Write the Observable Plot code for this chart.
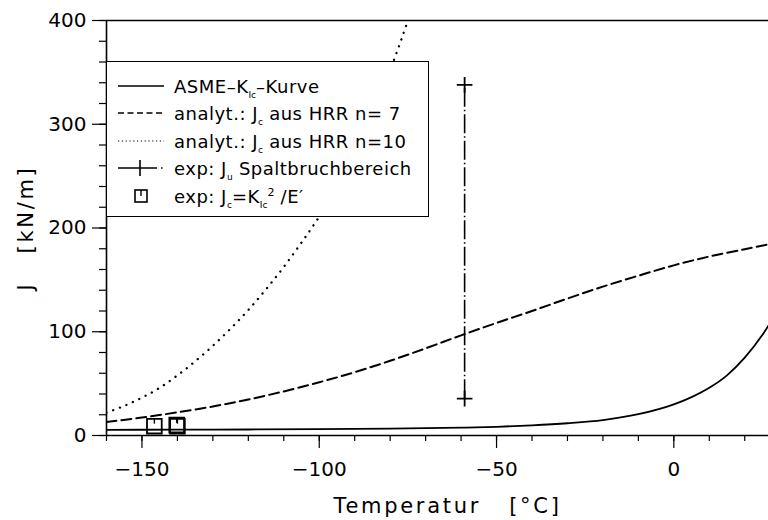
<!DOCTYPE html>
<html>
<head>
<meta charset="utf-8">
<script src="https://cdn.jsdelivr.net/npm/d3@7"></script>
<script src="https://cdn.jsdelivr.net/npm/@observablehq/plot@0.6"></script>
<style>
  body { margin: 0; background: #fff; overflow: hidden; }
  #wrap { position: relative; width: 768px; height: 520px; font-family: "DejaVu Sans", sans-serif; color: #000; }
  #legend { position: absolute; left: 106px; top: 61px; width: 323px; height: 156px; box-sizing: border-box;
            border: 1.2px solid #000; background: #fff; }
  .row { position: absolute; left: 0; height: 28px; display: flex; align-items: center;
         font-size: 18px; letter-spacing: 0.5px; white-space: pre; }
  .row svg { margin-left: 11px; margin-right: 10px; flex: none; }
  .sb { font-size: 9px; position: relative; top: 5px; letter-spacing: 0; }
  .sp { font-size: 11px; position: relative; top: -7px; letter-spacing: 0; }
</style>
</head>
<body>
<div id="wrap"></div>
<script>
// ---- data ----
const tempASME = [-160, -140, -120, -100, -80, -60, -50, -40, -30, -20, -10, 0, 5, 10, 15, 20, 25, 28];
const jASME    = [5.5, 5.6, 5.8, 6.1, 6.7, 7.6, 8.4, 9.8, 11.8, 14.8, 20.5, 30, 37, 46, 58, 75, 97, 113];

const tempN7 = [-160, -150, -140, -130, -120, -110, -100, -90, -80, -70, -60, -50, -40, -30, -20, -10, 0, 10, 20, 27];
const jN7    = [13, 17.3, 22.3, 28, 34.7, 42.5, 51.3, 61, 72, 84, 96.5, 108.5, 120, 132, 143.5, 154, 164, 172.5, 179.5, 184.5];

const tempN10 = [-160, -155, -150, -145, -140, -135, -130, -125, -120, -115, -110, -105, -100, -95, -90, -85, -80, -75, -72];
const jN10    = [22, 28.5, 36.5, 46, 58, 71.5, 86.5, 103, 121, 141, 162.5, 186, 211, 240, 273, 310, 352, 400, 432];

const tempSpalt = [-59];
const jSpaltLow = [35.5];
const jSpaltHigh = [338];

const tempSquares = [-146.5, -140, -140.2];
const jSquares    = [9, 9, 10];

const xMajorTicks = [-150, -100, -50, 0];
const xMinorTicks = d3.range(-160, 27, 10);
const yMajorTicks = [0, 100, 200, 300, 400];
const yMinorTicks = d3.range(0, 401, 20);

const xLabel = "Temperatur\u00a0\u00a0\u00a0[°C]";
const yLabel = "J\u00a0\u00a0\u00a0[kN/m]";

// ---- tables ----
const asme = tempASME.map((T, i) => ({T, J: jASME[i]}));
const n7 = tempN7.map((T, i) => ({T, J: jN7[i]}));
const n10 = tempN10.map((T, i) => ({T, J: jN10[i]}));
const spalt = tempSpalt.map((T, i) => ({T, lo: jSpaltLow[i], hi: jSpaltHigh[i]}));
const spaltEnds = spalt.flatMap(d => [{T: d.T, J: d.lo}, {T: d.T, J: d.hi}]);
const squares = tempSquares.map((T, i) => ({T, J: jSquares[i]}));

const fmt = d => d < 0 ? "\u2212" + Math.abs(d) : String(d);

const chart = Plot.plot({
  width: 768, height: 520,
  marginTop: 20, marginBottom: 85, marginLeft: 106, marginRight: 0,
  style: {fontFamily: "DejaVu Sans, sans-serif", fontSize: "20px", background: "#fff", color: "#000"},
  x: {domain: [-160, 26.7]},
  y: {domain: [0, 400]},
  marks: [
    Plot.axisX(xMinorTicks, {tickSize: 6, text: null, label: null, strokeWidth: 1.2}),
    Plot.axisX(xMajorTicks, {tickSize: 13, tickPadding: 13, label: null, strokeWidth: 1.2, fontSize: 20, tickFormat: fmt}),
    Plot.axisY(yMinorTicks, {tickSize: 7, text: null, label: null, strokeWidth: 1.2}),
    Plot.axisY(yMajorTicks, {tickSize: 14, tickPadding: 6, label: null, strokeWidth: 1.2, fontSize: 20, tickFormat: fmt}),
    Plot.ruleY([0], {strokeWidth: 1.6}),
    Plot.ruleY([400], {strokeWidth: 1.6}),
    Plot.ruleX([-160], {strokeWidth: 1.6}),
    Plot.line(n10, {x: "T", y: "J", curve: "catmull-rom", stroke: "#000", strokeWidth: 2.3, strokeLinecap: "round", strokeDasharray: "0.1,7", clip: true}),
    Plot.line(n7, {x: "T", y: "J", curve: "catmull-rom", stroke: "#000", strokeWidth: 2, strokeDasharray: "10,5", clip: true}),
    Plot.line(asme, {x: "T", y: "J", curve: "monotone-x", stroke: "#000", strokeWidth: 1.8, clip: true}),
    Plot.ruleX(spalt, {x: "T", y1: "lo", y2: "hi", stroke: "#000", strokeWidth: 1.6, strokeDasharray: "19,3,1.5,3"}),
    Plot.dot(spaltEnds, {x: "T", y: "J", symbol: "plus", r: 5.1, stroke: "#000", strokeWidth: 1.8}),
    Plot.dot(squares, {x: "T", y: "J", symbol: "square", r: 8.3, stroke: "#000", strokeWidth: 1.8, fill: "none"}),
    Plot.ruleX(squares, {x: "T", y1: "J", y2: "J", insetTop: -7, insetBottom: 2, stroke: "#000", strokeWidth: 1.4}),
    Plot.text([xLabel], {frameAnchor: "bottom", textAnchor: "middle", dx: 10, dy: 77, fontSize: 21, fill: "#000"}),
    Plot.text([yLabel], {frameAnchor: "left", textAnchor: "middle", dx: -80, rotate: -90, fontSize: 21, fill: "#000"})
  ]
});

d3.select(chart).selectAll("text").filter(function() {
  const t = this.textContent;
  return t === xLabel || t === yLabel;
}).style("letter-spacing", "2.7px");

const wrap = document.getElementById("wrap");
wrap.appendChild(chart);

// ---- legend (inside the plot area, as in the reference) ----
const legendRows = [
  {kind: "solid", html: 'ASME\u2013K<span class="sb">Ic</span>\u2013Kurve'},
  {kind: "dash", html: 'analyt.: J<span class="sb">c</span> aus HRR n= 7'},
  {kind: "dot", html: 'analyt.: J<span class="sb">c</span> aus HRR n=10'},
  {kind: "bar", html: 'exp: J<span class="sb">u</span> Spaltbruchbereich'},
  {kind: "square", html: 'exp: J<span class="sb">c</span>=K<span class="sb">Ic</span><span class="sp">2</span> /E\u2032'}
];
const rowCenters = [24, 51, 79, 106, 134];
const samples = {
  solid: '<line x1="0" y1="10" x2="46" y2="10" stroke="#000" stroke-width="1.6"/>',
  dash: '<line x1="0" y1="10" x2="46" y2="10" stroke="#000" stroke-width="1.6" stroke-dasharray="6,3.5"/>',
  dot: '<line x1="0" y1="10" x2="46" y2="10" stroke="#000" stroke-width="1.1" stroke-dasharray="1.2,2.6"/>',
  bar: '<line x1="0" y1="10" x2="39" y2="10" stroke="#000" stroke-width="1.6"/><line x1="22" y1="2" x2="22" y2="18" stroke="#000" stroke-width="1.6"/><line x1="43" y1="10" x2="44.5" y2="10" stroke="#000" stroke-width="1.4"/>',
  square: '<rect x="17" y="4" width="12" height="12" fill="none" stroke="#000" stroke-width="1.6"/><line x1="23" y1="4" x2="23" y2="10" stroke="#000" stroke-width="1.4"/>'
};
const legend = document.createElement("div");
legend.id = "legend";
legendRows.forEach((r, i) => {
  const row = document.createElement("div");
  row.className = "row";
  row.style.top = (rowCenters[i] - 14) + "px";
  row.innerHTML = '<svg width="46" height="20">' + samples[r.kind] + '</svg><span>' + r.html + '</span>';
  legend.appendChild(row);
});
wrap.appendChild(legend);
</script>
</body>
</html>
